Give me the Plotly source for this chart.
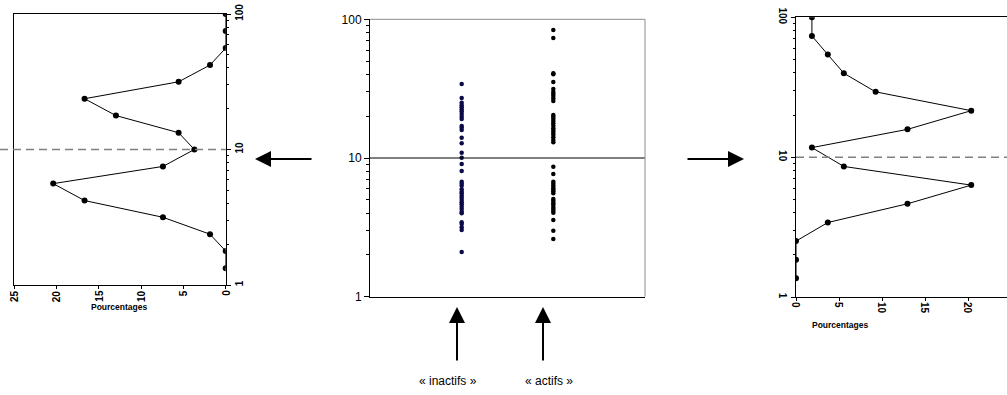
import plotly.graph_objects as go

W, H = 1007, 395

# ---------------- data ----------------
groups = ["« inactifs »", "« actifs »"]
inactifs = [34.2, 27.1, 25.0, 24.0, 23.2, 22.4, 21.6, 20.8, 19.8, 19.1, 17.0, 16.5, 15.9,
            14.0, 12.8, 10.9, 10.05, 9.05, 8.06, 6.75, 6.53, 6.31, 5.95, 5.72, 5.56, 5.35,
            5.17, 4.98, 4.80, 4.64, 4.46, 4.29, 4.10, 3.99, 3.44, 3.34, 3.17, 3.03, 2.10]
actifs = [83.7, 73.3, 40.8, 40.2, 35.3, 31.4, 29.9, 28.9, 28.0, 26.9, 25.8, 20.4, 19.8,
          19.2, 18.5, 17.8, 17.1, 16.4, 15.8, 15.2, 14.7, 14.1, 13.5, 13.0, 8.65, 7.67,
          6.75, 6.53, 6.31, 6.11, 5.95, 5.75, 5.56, 5.06, 4.92, 4.76, 4.64, 4.46, 4.31,
          4.17, 4.03, 3.57, 2.99, 2.61]

# left distribution (inactifs side)
left_values = [100, 75, 56, 42, 31.6, 23.7, 17.8, 13.3, 10, 7.5, 5.6, 4.2, 3.16, 2.37, 1.78, 1.33]
left_pct = [0, 0, 0, 1.85, 5.56, 16.67, 12.96, 5.56, 3.70, 7.41, 20.37, 16.67, 7.41, 1.85, 0, 0]

# right distribution (actifs side)
right_values = [100, 73.6, 54.1, 39.8, 29.3, 21.5, 15.8, 11.7, 8.58, 6.31, 4.64, 3.41, 2.51, 1.85, 1.36]
right_pct = [1.85, 1.85, 3.70, 5.56, 9.26, 20.37, 12.96, 1.85, 5.56, 20.37, 12.96, 3.70, 0, 0, 0]

threshold = 10
pct_ticks = [0, 5, 10, 15, 20, 25]
log_ticks = [1, 10, 100]
pct_title = "Pourcentages"
left_range = [25, 0]
right_range = [0, 24.53]

# ---------------- layout geometry (pixels) ----------------
def px_x(a, b):
    return [a / W, b / W]

def px_y(top, bottom):
    return [1 - bottom / H, 1 - top / H]

L_X, L_Y = px_x(14, 225.7), px_y(14, 285)
C_X, C_Y = px_x(370, 645), px_y(19.3, 296.7)
R_X, R_Y = px_x(796, 1007), px_y(17.3, 297)

FONT = "Liberation Sans, Arial, sans-serif"
bold_tick = dict(family=FONT, size=10, color="black", weight="bold")
title_font = dict(family=FONT, size=8.5, color="black", weight="bold")

fig = go.Figure()

# side panels
fig.add_trace(go.Scatter(x=left_pct, y=left_values, mode="lines+markers",
                         line=dict(color="black", width=1),
                         marker=dict(color="black", size=6),
                         xaxis="x", yaxis="y", showlegend=False))
fig.add_trace(go.Scatter(x=right_pct, y=right_values, mode="lines+markers",
                         line=dict(color="black", width=1),
                         marker=dict(color="black", size=6),
                         xaxis="x3", yaxis="y3", showlegend=False))

# center strip plot
fig.add_trace(go.Scatter(x=[groups[0]] * len(inactifs), y=inactifs, mode="markers",
                         marker=dict(color="#0b0b4a", size=4.5),
                         xaxis="x2", yaxis="y2", showlegend=False))
fig.add_trace(go.Scatter(x=[groups[1]] * len(actifs), y=actifs, mode="markers",
                         marker=dict(color="black", size=4.5),
                         xaxis="x2", yaxis="y2", showlegend=False))

minor_log = dict(ticks="outside", ticklen=2.5, tickcolor="black", dtick="D1")

fig.update_layout(
    width=W, height=H, margin=dict(l=0, r=0, t=0, b=0),
    paper_bgcolor="white", plot_bgcolor="white",
    font=dict(family=FONT, color="black"),
    # left panel
    xaxis=dict(domain=L_X, anchor="y", range=left_range, tickvals=pct_ticks,
               showticklabels=False,
               showgrid=False, zeroline=False, showline=True, linecolor="black",
               mirror=True, ticks="outside", ticklen=3, tickcolor="black",
               automargin=False),
    yaxis=dict(domain=L_Y, anchor="x", type="log", range=[0, 2], side="right",
               tickvals=log_ticks, showgrid=False, zeroline=False, showline=True,
               linecolor="black", mirror=True, ticks="outside", ticklen=4,
               tickcolor="black", tickangle=-90, tickfont=bold_tick,
               minor=minor_log, automargin=False),
    # center panel
    xaxis2=dict(domain=C_X, anchor="y2", type="category", range=[-1, 2],
                showticklabels=False, ticks="", showgrid=False, zeroline=False,
                showline=True, linecolor="black", automargin=False),
    yaxis2=dict(domain=C_Y, anchor="x2", type="log", range=[0, 2], tickvals=log_ticks,
                showgrid=False, zeroline=False, showline=True, linecolor="black",
                ticks="outside", ticklen=5, tickcolor="black",
                tickfont=dict(family=FONT, size=12, color="black"),
                minor=dict(ticks="outside", ticklen=3, tickcolor="black", dtick="D1"),
                automargin=False),
    # right panel
    xaxis3=dict(domain=R_X, anchor="y3", range=right_range, tickvals=pct_ticks,
                showticklabels=False,
                showgrid=False, zeroline=False, showline=True, linecolor="black",
                mirror=True, ticks="outside", ticklen=3, tickcolor="black",
                automargin=False),
    yaxis3=dict(domain=R_Y, anchor="x3", type="log", range=[0, 2], side="left",
                tickvals=log_ticks, showgrid=False, zeroline=False, showline=True,
                linecolor="black", mirror=False, ticks="outside", ticklen=4,
                tickcolor="black", tickangle=90, tickfont=bold_tick,
                minor=minor_log, automargin=False),
)

# rotated percentage tick labels (placed on the axes' own scales)
for v in pct_ticks:
    if min(left_range) <= v <= max(left_range):
        fig.add_annotation(text=str(v), x=v, xref="x", y=0, yref="y domain", yshift=-3,
                           xanchor="center", yanchor="top", textangle=-90,
                           showarrow=False, font=bold_tick)
    if min(right_range) <= v <= max(right_range):
        fig.add_annotation(text=str(v), x=v, xref="x3", y=0, yref="y3 domain", yshift=-3,
                           xanchor="center", yanchor="top", textangle=90,
                           showarrow=False, font=bold_tick)

# reference lines at the threshold
fig.add_shape(type="line", xref="paper", x0=0, x1=L_X[1], yref="y", y0=threshold, y1=threshold,
              line=dict(color="#808080", width=1.5, dash="8px,5px"))
fig.add_shape(type="line", xref="x3 domain", x0=0, x1=1, yref="y3", y0=threshold, y1=threshold,
              line=dict(color="#808080", width=1.5, dash="8px,5px"))
fig.add_shape(type="line", xref="x2 domain", x0=0, x1=1, yref="y2", y0=threshold, y1=threshold,
              line=dict(color="black", width=1))
# grey top/right frame of the center panel
fig.add_shape(type="line", xref="x2 domain", yref="y2 domain", x0=0, x1=1, y0=1, y1=1,
              line=dict(color="#8c8c8c", width=1))
fig.add_shape(type="line", xref="x2 domain", yref="y2 domain", x0=1, x1=1, y0=0, y1=1,
              line=dict(color="#8c8c8c", width=1))

text_anchor = dict(xref="paper", yref="paper", xanchor="center", yanchor="middle",
                   showarrow=False)

# axis titles of the side panels
fig.add_annotation(text=pct_title, x=119 / W, y=1 - 307 / H, font=title_font, **text_anchor)
fig.add_annotation(text=pct_title, x=840 / W, y=1 - 325 / H, font=title_font, **text_anchor)

# arrows
arrow_style = dict(text="", showarrow=True, arrowhead=2, arrowsize=1.6, arrowwidth=2,
                   arrowcolor="black", xref="paper", yref="paper", standoff=0)
fig.add_annotation(x=255 / W, y=1 - 159 / H, ax=58, ay=0, **arrow_style)
fig.add_annotation(x=744 / W, y=1 - 159 / H, ax=-58, ay=0, **arrow_style)
fig.add_annotation(x=457 / W, y=1 - 307 / H, ax=0, ay=55, **arrow_style)
fig.add_annotation(x=543 / W, y=1 - 307 / H, ax=0, ay=55, **arrow_style)

# group labels
for label, xc in zip(groups, [448, 549]):
    fig.add_annotation(text=label, x=xc / W, y=1 - 381 / H,
                       font=dict(family=FONT, size=12, color="black"), **text_anchor)

fig.write_html("out.html")
